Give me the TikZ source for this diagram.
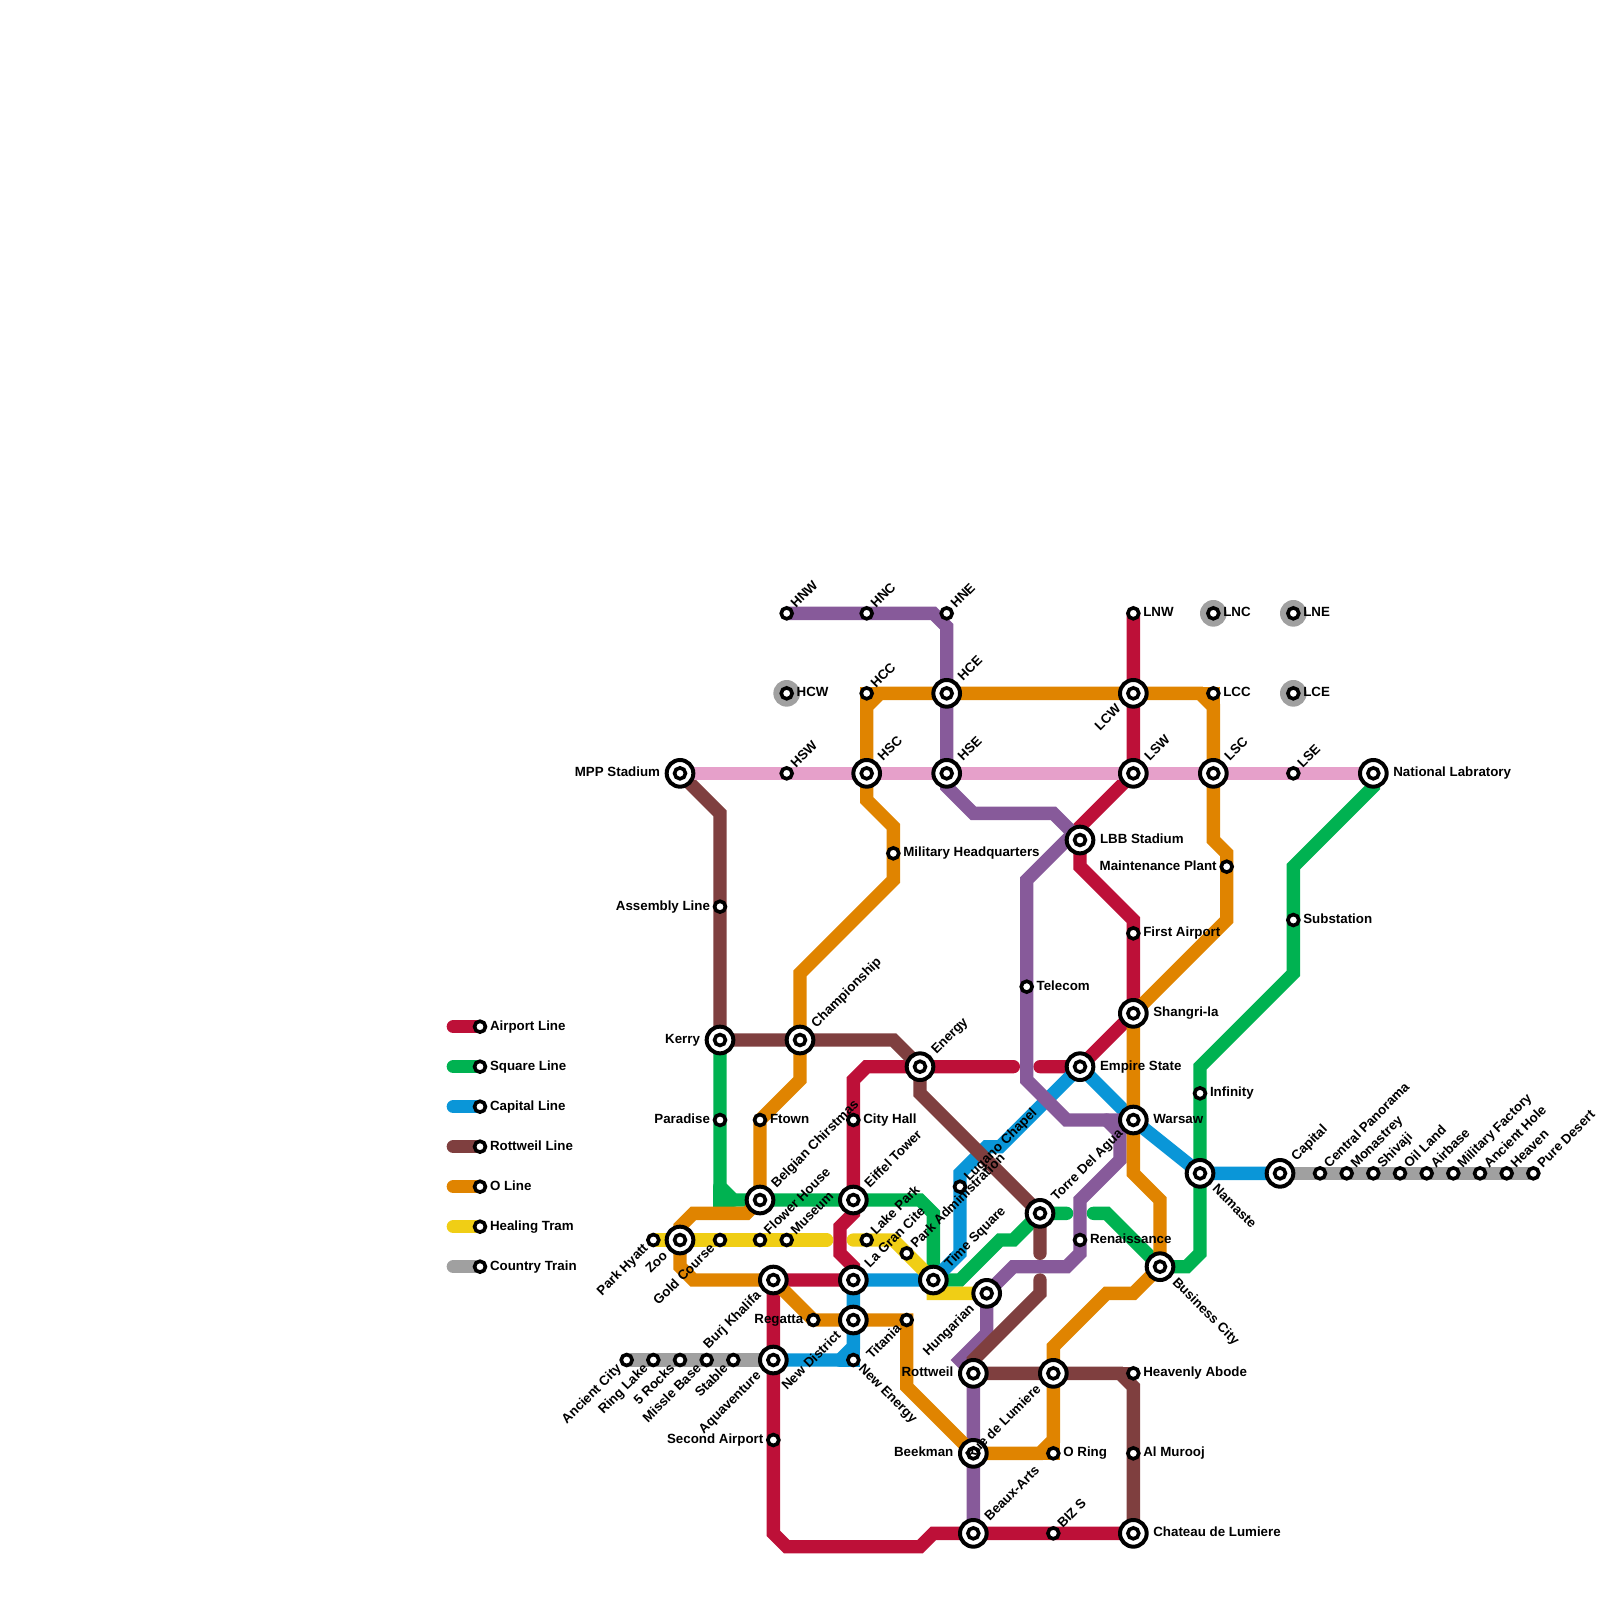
\documentclass[tikz,border=0pt]{standalone}
\usepackage{fontspec}
\setmainfont{Liberation Sans}
\usetikzlibrary{calc}
\pgfdeclarelayer{lines}
\pgfsetlayers{lines,main}
\definecolor{cRed}{HTML}{BD1038}
\definecolor{cGreen}{HTML}{00B251}
\definecolor{cBlue}{HTML}{0A96D8}
\definecolor{cBrown}{HTML}{7F3F3F}
\definecolor{cOrange}{HTML}{E08400}
\definecolor{cYellow}{HTML}{F0CE15}
\definecolor{cGray}{HTML}{A0A0A0}
\definecolor{cPurple}{HTML}{875A9A}
\definecolor{cPink}{HTML}{E6A0CA}
\tikzset{
  metro/.style={line width=0.25cm,line cap=round},
  stsmall/.style={circle,draw=black,fill=white,line width=0.0675cm,minimum size=0.205cm,inner sep=0pt},
  stbig/.style={circle,draw=black,fill=white,line width=0.075cm,minimum size=0.5cm,inner sep=0pt,
    path picture={\draw[black,fill=white,line width=0.0675cm] (path picture bounding box.center) circle (0.1025cm);}},
  lbl/.style={inner sep=0pt,outer sep=0pt,text=black,font=\fontsize{7.11}{8.5}\selectfont\bfseries},
}
\def\offS{.75}
\def\offB{1.5}
\newcommand\stA[3]{\node[stsmall] (#1) at (#2,#3) {};}
\newcommand\stB[3]{\node[stbig] (#1) at (#2,#3) {};}
\newcommand\lblR[4]{\node[lbl,anchor=base west,rotate=#3] (#1-l) at ($(#1.center)+({#2*cos(#3)+.25*sin(#3)},{-#2*sin(#3)+.25*cos(#3)})$) {#4};}
\newcommand\lblL[4]{\node[lbl,anchor=base east,rotate=#3] (#1-l) at ($(#1.center)+({-#2*cos(#3)+.25*sin(#3)},{#2*sin(#3)+.25*cos(#3)})$) {#4};}
\begin{document}
\begin{tikzpicture}[x=0.25cm,y=-0.25cm]
\useasboundingbox (0,0) rectangle (120,120);
% stations
\stA{kRed}{36}{77}\stA{kGreen}{36}{80}\stA{kBlue}{36}{83}\stA{kBrown}{36}{86}\stA{kOrange}{36}{89}\stA{kYellow}{36}{92}\stA{kGray}{36}{95}
\stA{hnw}{59}{46}\stA{hnc}{65}{46}\stA{hne}{71}{46}
\stA{lnw}{85}{46}\stA{lnc}{91}{46}\stA{lne}{97}{46}
\stA{hcw}{59}{52}\stA{hcc}{65}{52}\stB{hce}{71}{52}\stB{lcw}{85}{52}\stA{lcc}{91}{52}\stA{lce}{97}{52}
\stB{mpp}{51}{58}\stA{hsw}{59}{58}\stB{hsc}{65}{58}\stB{hse}{71}{58}\stB{lsw}{85}{58}\stB{lsc}{91}{58}\stA{lse}{97}{58}\stB{natl}{103}{58}
\stB{lbb}{81}{63}\stA{milhq}{67}{64}\stA{maint}{92}{65}
\stA{assem}{54}{68}\stA{subst}{97}{69}\stA{first}{85}{70}\stA{telecom}{77}{74}
\stB{shang}{85}{76}\stB{kerry}{54}{78}\stB{champ}{60}{78}
\stB{energy}{69}{80}\stB{empire}{81}{80}\stA{infin}{90}{82}
\stA{parad}{54}{84}\stA{ftown}{57}{84}\stA{city}{64}{84}\stB{warsaw}{85}{84}
\stB{namaste}{90}{88}\stB{capital}{96}{88}
\stA{cpan}{99}{88}\stA{mona}{101}{88}\stA{shiv}{103}{88}\stA{oil}{105}{88}\stA{airb}{107}{88}\stA{milf}{109}{88}\stA{ahole}{111}{88}\stA{heaven}{113}{88}\stA{pure}{115}{88}
\stA{lugano}{72}{89}\stB{belg}{57}{90}\stB{eiffel}{64}{90}\stB{torre}{78}{91}
\stA{hyatt}{49}{93}\stB{zoo}{51}{93}\stA{gold}{54}{93}\stA{flower}{57}{93}\stA{museum}{59}{93}\stA{lake}{65}{93}\stA{renais}{81}{93}
\stA{parkad}{68}{94}\stB{busi}{87}{95}
\stB{burj}{58}{96}\stB{lagran}{64}{96}\stB{time}{70}{96}\stB{hung}{74}{97}
\stA{regatta}{61}{99}\stB{newd}{64}{99}\stA{titania}{68}{99}
\stA{acity}{47}{102}\stA{ring}{49}{102}\stA{rocks}{51}{102}\stA{missle}{53}{102}\stA{stable}{55}{102}\stB{aqua}{58}{102}\stA{newe}{64}{102}
\stB{rott}{73}{103}\stB{rue}{79}{103}\stA{heav}{85}{103}
\stA{second}{58}{108}\stB{beek}{73}{109}\stA{oring}{79}{109}\stA{murooj}{85}{109}
\stB{beaux}{73}{115}\stA{biz}{79}{115}\stB{chat}{85}{115}
% lines
\begin{pgfonlayer}{lines}
\draw[metro,cRed] (34,77)--(kRed.center);
\draw[metro,cGreen] (34,80)--(kGreen.center);
\draw[metro,cBlue] (34,83)--(kBlue.center);
\draw[metro,cBrown] (34,86)--(kBrown.center);
\draw[metro,cOrange] (34,89)--(kOrange.center);
\draw[metro,cYellow] (34,92)--(kYellow.center);
\draw[metro,cGray] (34,95)--(kGray.center);
\fill[cGray] (hcw.center) circle (1);
\fill[cGray] (lnc.center) circle (1);
\fill[cGray] (lne.center) circle (1);
\fill[cGray] (lce.center) circle (1);
% airport
\draw[metro,cRed] (lnw.center)--(lcw.center)--(lsw.center)--(81,62)--(lbb.center)--(81,65)--(85,69)--(first.center)--(shang.center)--(empire.center)--(78,80);
\draw[metro,cRed] (76,80)--(energy.center)--(65,80)--(64,81)--(city.center)--(eiffel.center)--(64,91)--(63,92)--(63,94)--(64,95)--(lagran.center)--(burj.center)--(aqua.center)--(second.center)--(58,115)--(59,116)--(69,116)--(70,115)--(beaux.center)--(biz.center)--(chat.center);
% square
\draw[metro,cGreen] (kerry.center)--(parad.center)--(54,89)--(55,90)--(belg.center)--(eiffel.center)--(69,90)--(70,91)--(time.center)--(72,96)--(75,93)--(76,93)--(torre.center)--(80,91);
\draw[metro,cGreen] (54,89)--(54,90)--(55,90);
\draw[metro,cGreen] (82,91)--(83,91)--(busi.center)--(89,95)--(90,94)--(namaste.center)--(infin.center)--(90,80)--(97,73)--(subst.center)--(97,65)--(103,59)--(natl.center);
% capital
\draw[metro,cBlue] (capital.center)--(namaste.center)--(warsaw.center)--(empire.center)--(75,86)--(74,86)--(72,88)--(lugano.center)--(72,94)--(time.center)--(lagran.center)--(newd.center)--(64,101)--(63,102)--(aqua.center);
\draw[metro,cBlue] (64,101)--(newe.center)--(63,102);
% purple
\draw[metro,cPurple] (hnw.center)--(hnc.center)--(70,46)--(71,47)--(hce.center)--(hse.center)--(71,59)--(73,61)--(79,61)--(80.5,62.5);
\draw[metro,cPurple] (80.5,62.5)--(77,66)--(telecom.center)--(77,81)--(80,84)--(warsaw.center);
\draw[metro,cPurple] (83,84)--(84,85)--(84,87)--(81,90)--(renais.center)--(81,94)--(80,95)--(76,95)--(hung.center)--(74,100)--(72,102)--(rott.center)--(beek.center)--(beaux.center);
% rottweil
\draw[metro,cBrown] (mpp.center)--(54,61)--(assem.center)--(kerry.center)--(champ.center)--(67,78)--(energy.center)--(69,82)--(torre.center)--(78,94);
\draw[metro,cBrown] (78,96)--(78,97)--(73,102)--(rott.center)--(rue.center)--(84,103)--(85,104)--(murooj.center)--(chat.center);
\draw[metro,cBrown] (84,103)--(heav.center);
% O line
\draw[metro,cOrange] (belg.center)--(56,91)--(52,91)--(51,92)--(zoo.center)--(51,95)--(52,96)--(burj.center)--(regatta.center)--(newd.center)--(titania.center)--(68,104)--(beek.center)--(78,109)--(79,108)--(rue.center)--(79,101)--(83,97)--(85,97)--(busi.center)--(87,90)--(85,88)--(warsaw.center)--(shang.center)--(92,69)--(maint.center)--(92,64)--(91,63)--(lsc.center)--(91,53)--(90,52)--(lcw.center)--(hce.center)--(66,52)--(65,53)--(hsc.center)--(65,60)--(67,62)--(milhq.center)--(67,66)--(60,73)--(champ.center)--(60,81)--(ftown.center)--(belg.center);
\draw[metro,cOrange] (90,52)--(lcc.center)--(91,53);
\draw[metro,cOrange] (66,52)--(hcc.center)--(65,53);
\draw[metro,cOrange] (78,109)--(oring.center)--(79,108);
% healing
\draw[metro,cYellow] (hyatt.center)--(zoo.center)--(62,93);
\draw[metro,cYellow] (64,93)--(lake.center)--(67,93)--(parkad.center)--(time.center)--(70,97)--(hung.center);
% country
\draw[metro,cGray] (acity.center)--(aqua.center);
\draw[metro,cGray] (capital.center)--(pure.center);
% pink
\draw[metro,cPink] (mpp.center)--(natl.center);
\end{pgfonlayer}
% labels
\lblR{kRed}{\offS}{0}{Airport Line}\lblR{kGreen}{\offS}{0}{Square Line}\lblR{kBlue}{\offS}{0}{Capital Line}\lblR{kBrown}{\offS}{0}{Rottweil Line}\lblR{kOrange}{\offS}{0}{O Line}\lblR{kYellow}{\offS}{0}{Healing Tram}\lblR{kGray}{\offS}{0}{Country Train}
\lblR{hnw}{\offS}{45}{HNW}\lblR{hnc}{\offS}{45}{HNC}\lblR{hne}{\offS}{45}{HNE}
\lblR{lnw}{\offS}{0}{LNW}\lblR{lnc}{\offS}{0}{LNC}\lblR{lne}{\offS}{0}{LNE}
\lblR{hcw}{\offS}{0}{HCW}\lblR{hcc}{\offS}{45}{HCC}\lblR{hce}{\offB}{45}{HCE}\lblL{lcw}{\offB}{45}{LCW}\lblR{lcc}{\offS}{0}{LCC}\lblR{lce}{\offS}{0}{LCE}
\lblL{mpp}{\offB}{0}{MPP Stadium}\lblR{hsw}{\offS}{45}{HSW}\lblR{hsc}{\offB}{45}{HSC}\lblR{hse}{\offB}{45}{HSE}\lblR{lsw}{\offB}{45}{LSW}\lblR{lsc}{\offB}{45}{LSC}\lblR{lse}{\offS}{45}{LSE}\lblR{natl}{\offB}{0}{National Labratory}
\lblR{lbb}{\offB}{0}{LBB Stadium}\lblR{milhq}{\offS}{0}{Military Headquarters}\lblL{maint}{\offS}{0}{Maintenance Plant}
\lblL{assem}{\offS}{0}{Assembly Line}\lblR{subst}{\offS}{0}{Substation}\lblR{first}{\offS}{0}{First Airport}\lblR{telecom}{\offS}{0}{Telecom}
\lblR{shang}{\offB}{0}{Shangri-la}\lblL{kerry}{\offB}{0}{Kerry}\lblR{champ}{\offB}{45}{Championship}
\lblR{energy}{\offB}{45}{Energy}\lblR{empire}{\offB}{0}{Empire State}\lblR{infin}{\offS}{0}{Infinity}
\lblL{parad}{\offS}{0}{Paradise}\lblR{ftown}{\offS}{0}{Ftown}\lblR{city}{\offS}{0}{City Hall}\lblR{warsaw}{\offB}{0}{Warsaw}
\lblR{namaste}{\offB}{-45}{Namaste}\lblR{capital}{\offB}{45}{Capital}
\lblR{cpan}{\offS}{45}{Central Panorama}\lblR{mona}{\offS}{45}{Monastrey}\lblR{shiv}{\offS}{45}{Shivaji}\lblR{oil}{\offS}{45}{Oil Land}\lblR{airb}{\offS}{45}{Airbase}\lblR{milf}{\offS}{45}{Military Factory}\lblR{ahole}{\offS}{45}{Ancient Hole}\lblR{heaven}{\offS}{45}{Heaven}\lblR{pure}{\offS}{45}{Pure Desert}
\lblR{lugano}{\offS}{45}{Lugano Chapel}\lblR{belg}{\offB}{45}{Belgian Chirstmas}\lblR{eiffel}{\offB}{45}{Eiffel Tower}\lblR{torre}{\offB}{45}{Torre Del Agua}
\lblL{hyatt}{\offS}{45}{Park Hyatt}\lblL{zoo}{\offB}{45}{Zoo}\lblL{gold}{\offS}{45}{Gold Course}\lblR{flower}{\offS}{45}{Flower House}\lblR{museum}{\offS}{45}{Museum}\lblR{lake}{\offS}{45}{Lake Park}\lblR{renais}{\offS}{0}{Renaissance}
\lblR{parkad}{\offS}{45}{Park Administration}\lblR{busi}{\offB}{-45}{Business City}
\lblL{burj}{\offB}{45}{Burj Khalifa}\lblR{lagran}{\offB}{45}{La Gran Cite}\lblR{time}{\offB}{45}{Time Square}\lblL{hung}{\offB}{45}{Hungarian}
\lblL{regatta}{\offS}{0}{Regatta}\lblL{newd}{\offB}{45}{New District}\lblL{titania}{\offS}{45}{Titania}
\lblL{acity}{\offS}{45}{Ancient City}\lblL{ring}{\offS}{45}{Ring Lake}\lblL{rocks}{\offS}{45}{5 Rocks}\lblL{missle}{\offS}{45}{Missle Base}\lblL{stable}{\offS}{45}{Stable}\lblL{aqua}{\offB}{45}{Aquaventure}\lblR{newe}{\offS}{-45}{New Energy}
\lblL{rott}{\offB}{0}{Rottweil}\lblL{rue}{\offB}{45}{Rue de Lumiere}\lblR{heav}{\offS}{0}{Heavenly Abode}
\lblL{second}{\offS}{0}{Second Airport}\lblL{beek}{\offB}{0}{Beekman}\lblR{oring}{\offS}{0}{O Ring}\lblR{murooj}{\offS}{0}{Al Murooj}
\lblR{beaux}{\offB}{45}{Beaux-Arts}\lblR{biz}{\offS}{45}{BIZ S}\lblR{chat}{\offB}{0}{Chateau de Lumiere}
\end{tikzpicture}
\end{document}
